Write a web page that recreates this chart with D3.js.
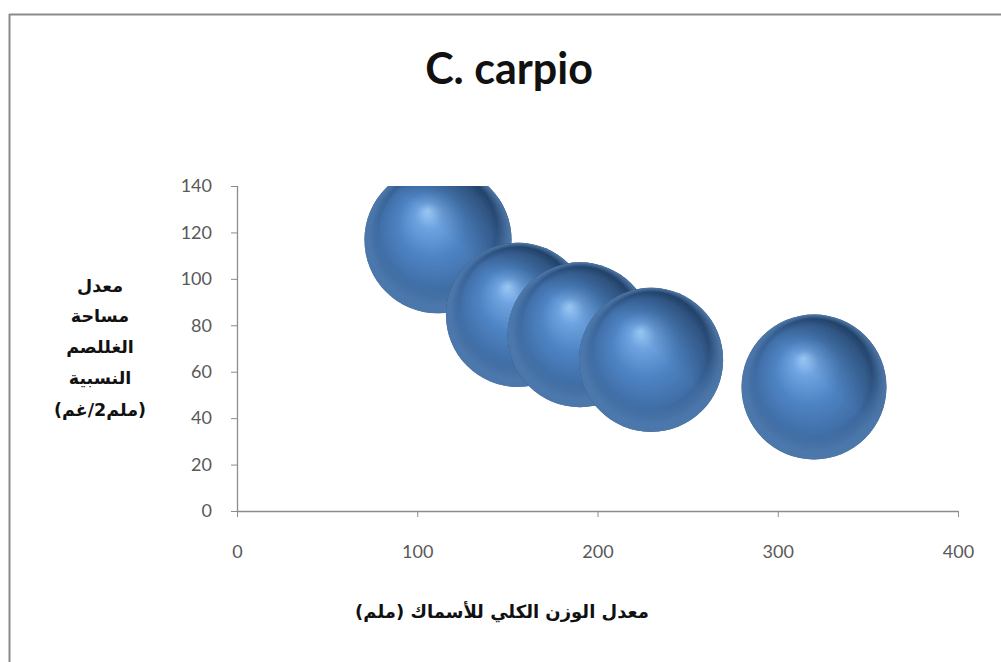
<!DOCTYPE html>
<html>
<head>
<meta charset="utf-8">
<script src="https://cdn.jsdelivr.net/npm/d3@7"></script>
<style>
  html, body { margin: 0; padding: 0; background: #ffffff; }
  svg { display: block; }
</style>
</head>
<body>
<svg id="chart" width="1001" height="662"></svg>
<script>
// Mean total weight (x), relative gill area (y) and bubble size per group
const weights = [111.5, 155.9, 190.3, 229.7, 320.1];
const gillArea = [116.8, 84.5, 75.9, 65.1, 53.4];
const bubbleSize = [10.4, 10.0, 10.1, 10.0, 10.1];

const xTicks = [0, 100, 200, 300, 400];
const yTicks = [0, 20, 40, 60, 80, 100, 120, 140];

const titleText = "C. carpio";
const xTitle = "معدل الوزن الكلي للأسماك (ملم)";
const yTitleLines = ["معدل", "مساحة", "الغللصم", "النسبية", "(ملم2/غم)"];

const svg = d3.select("#chart");

const plot = { left: 237, right: 958, top: 186, bottom: 511 };

const x = d3.scaleLinear().domain([0, 400]).range([plot.left, plot.right]);
const y = d3.scaleLinear().domain([0, 140]).range([plot.bottom, plot.top]);
const r = d3.scaleSqrt().domain([0, d3.max(bubbleSize)]).range([0, 73.5]);

// chart frame
svg.append("line").attr("x1", 9).attr("x2", 1001).attr("y1", 14.5).attr("y2", 14.5)
  .attr("stroke", "#8a8a8a").attr("stroke-width", 2);
svg.append("line").attr("x1", 9.5).attr("x2", 9.5).attr("y1", 14).attr("y2", 662)
  .attr("stroke", "#8a8a8a").attr("stroke-width", 2);

const defs = svg.append("defs");
defs.append("clipPath").attr("id", "plotClip")
  .append("rect")
  .attr("x", plot.left).attr("y", plot.top)
  .attr("width", plot.right - plot.left).attr("height", plot.bottom - plot.top + 40);

// sphere shading
const g1 = defs.append("radialGradient").attr("id", "sphere")
  .attr("cx", "0.5").attr("cy", "0.5").attr("r", "0.5")
  .attr("fx", "0.43").attr("fy", "0.3");
[
  [0.00, "#9ccbf7"],
  [0.18, "#6ea3e0"],
  [0.45, "#4e84c4"],
  [0.75, "#416fa8"],
  [0.92, "#2c5383"],
  [1.00, "#1b3352"]
].forEach(([o, c]) => g1.append("stop").attr("offset", o).attr("stop-color", c));

// soft light reflected on the lower rim
const g2 = defs.append("radialGradient").attr("id", "rimLight")
  .attr("cx", "0.5").attr("cy", "0.5").attr("r", "0.5")
  .attr("fx", "0.5").attr("fy", "0.15");
[
  [0.00, "#6fa2dc", 0],
  [0.80, "#6fa2dc", 0],
  [0.95, "#6a9cd6", 0.55],
  [1.00, "#5c8fcb", 0.75]
].forEach(([o, c, a]) => g2.append("stop").attr("offset", o).attr("stop-color", c).attr("stop-opacity", a));

// dark shading on the upper-right edge
const g3 = defs.append("linearGradient").attr("id", "edgeShade")
  .attr("x1", "0.2").attr("y1", "0.9").attr("x2", "0.9").attr("y2", "0.15");
[
  [0.00, "#0d2036", 0],
  [0.55, "#0d2036", 0],
  [1.00, "#0d2036", 0.5]
].forEach(([o, c, a]) => g3.append("stop").attr("offset", o).attr("stop-color", c).attr("stop-opacity", a));

defs.append("filter").attr("id", "soft")
  .append("feGaussianBlur").attr("stdDeviation", 0.6);

// axes
const axisColor = "#8c8c8c";
const tickColor = "#595959";

const xAxis = svg.append("g")
  .attr("transform", `translate(0,${plot.bottom})`)
  .call(d3.axisBottom(x).tickValues(xTicks).tickSize(6).tickPadding(28).tickFormat(d3.format("d")));
const yAxis = svg.append("g")
  .attr("transform", `translate(${plot.left},0)`)
  .call(d3.axisLeft(y).tickValues(yTicks).tickSize(6).tickPadding(19).tickFormat(d3.format("d")));

[xAxis, yAxis].forEach(a => {
  a.select(".domain").attr("stroke", axisColor).attr("stroke-width", 1.3);
  a.selectAll(".tick line").attr("stroke", axisColor).attr("stroke-width", 1);
  a.selectAll(".tick text")
    .attr("fill", tickColor)
    .style("font-family", "Lato, 'Open Sans', sans-serif")
    .style("font-size", "18px");
});
// domain paths without outer tick stubs
xAxis.select(".domain").attr("d", `M${plot.left},0.5H${plot.right}`);
yAxis.select(".domain").attr("d", `M0.5,${plot.top}V${plot.bottom}`);

// bubbles
const data = weights.map((w, i) => ({ w, a: gillArea[i], s: bubbleSize[i] }));
const bubbles = svg.append("g").attr("clip-path", "url(#plotClip)")
  .selectAll("g.bubble").data(data).join("g").attr("class", "bubble")
  .attr("filter", "url(#soft)");
bubbles.append("circle")
  .attr("cx", d => x(d.w)).attr("cy", d => y(d.a)).attr("r", d => r(d.s))
  .attr("fill", "url(#sphere)");
bubbles.append("circle")
  .attr("cx", d => x(d.w)).attr("cy", d => y(d.a)).attr("r", d => r(d.s))
  .attr("fill", "url(#edgeShade)");
bubbles.append("circle")
  .attr("cx", d => x(d.w)).attr("cy", d => y(d.a)).attr("r", d => r(d.s))
  .attr("fill", "url(#rimLight)");

// title
svg.append("text")
  .attr("x", 509).attr("y", 84)
  .attr("text-anchor", "middle")
  .style("font-family", "Lato, 'Open Sans', sans-serif")
  .style("font-weight", "bold")
  .style("font-size", "43px")
  .attr("fill", "#111")
  .text(titleText);

// x axis title
svg.append("text")
  .attr("x", 502).attr("y", 618)
  .attr("text-anchor", "middle")
  .attr("direction", "rtl")
  .style("font-family", "'DejaVu Sans', sans-serif")
  .style("font-weight", "bold")
  .style("font-size", "18px")
  .attr("fill", "#111")
  .text(xTitle);

// y axis title, stacked lines
const yt = svg.append("text")
  .attr("text-anchor", "middle")
  .attr("direction", "rtl")
  .style("font-family", "'DejaVu Sans', sans-serif")
  .style("font-weight", "bold")
  .style("font-size", "17.5px")
  .attr("fill", "#111");
const lineYs = [292, 322, 353, 384, 416];
yTitleLines.forEach((t, i) => {
  yt.append("tspan").attr("x", 100).attr("y", lineYs[i]).text(t);
});
</script>
</body>
</html>
